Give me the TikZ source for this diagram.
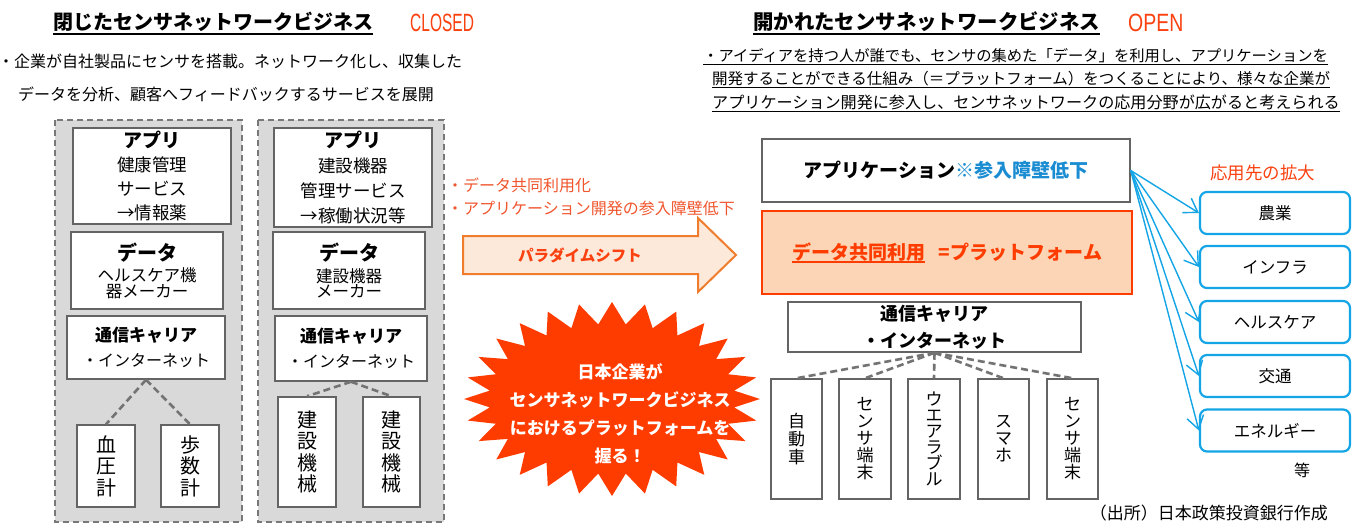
\documentclass[tikz,border=0pt]{standalone}
\usepackage{fontspec}
\setmainfont{Noto Sans CJK JP}
\newfontfamily\latinA[FakeStretch=0.62]{Liberation Sans}
\newfontfamily\latinB[FakeStretch=0.78]{Liberation Sans}
\usetikzlibrary{arrows.meta}
\definecolor{ored}{RGB}{250,65,15}
\definecolor{otext}{RGB}{240,85,45}
\definecolor{burstc}{RGB}{255,60,0}
\definecolor{peach}{RGB}{251,213,181}
\definecolor{arrfill}{RGB}{253,233,218}
\definecolor{arrline}{RGB}{240,125,45}
\definecolor{ablue}{RGB}{20,165,230}
\definecolor{sblue}{RGB}{25,140,210}
\definecolor{lgray}{RGB}{217,217,217}
\definecolor{pgray}{RGB}{120,120,120}
\definecolor{bgray}{RGB}{100,100,100}
\definecolor{dgray}{RGB}{115,115,115}
\newcommand\fsz[2]{\fontsize{#1}{#2}\selectfont\lineskiplimit=-50pt\lineskip=0pt}
\newcommand\myul[3]{\leavevmode\setbox0\hbox{#3}\rlap{\raisebox{-#1}{\rule{\wd0}{#2}}}\box0}
\tikzset{
  txt/.style={inner sep=0pt, anchor=base west},
  panel/.style={draw=pgray, fill=lgray, line width=1.8pt, dash pattern=on 6pt off 4pt},
  gbox/.style={draw=bgray, fill=white, line width=1.5pt, inner sep=0pt, align=center},
  dcon/.style={draw=dgray, line width=2.6pt, dash pattern=on 7pt off 4pt},
  appbox/.style={draw=ablue, line width=2.2pt, rounded corners=7pt, fill=white, inner sep=0pt,
    minimum width=150, minimum height=42, font=\fsz{16.5}{20}},
  barrow/.style={draw=ablue, line width=1.4pt, -{Straight Barb[length=13pt,width=17pt]}},
}
\begin{document}
\begin{tikzpicture}[x=1pt, y=-1pt]
\useasboundingbox (0,0) rectangle (1357,528);
\fill[white] (0,0) rectangle (1357,528);

% ---------- left: closed ----------
\node[txt, font=\fsz{20}{24}\bfseries] (ttl) at (53,29.5) {\myul{5.5pt}{2pt}{閉じたセンサネットワークビジネス}};
\node[txt, font=\latinA\fontsize{25}{28}\selectfont, text=ored] (closed) at (410,31.5) {CLOSED};
\node[txt, font=\fsz{16}{20}] (ld1) at (-2,67) {・企業が自社製品にセンサを搭載。ネットワーク化し、収集した};
\node[txt, font=\fsz{16}{20}] (ld2) at (18,100) {データを分析、顧客へフィードバックするサービスを展開};

\draw[panel] (55,120) rectangle (242,522);
\draw[panel] (258,120) rectangle (444,522);

\node[gbox, minimum width=158, minimum height=96, font=\fsz{17.5}{24}] (a1) at (152,176)
  {{\fsz{19}{24}\bfseries アプリ}\\健康管理\\サービス\\→情報薬};
\node[gbox, minimum width=152, minimum height=77, font=\fsz{16.5}{15.5}] (d1) at (147,270.5)
  {{\fsz{20}{20}\bfseries データ}\\[6pt]ヘルスケア機\\器メーカー};
\node[gbox, minimum width=158, minimum height=63, font=\fsz{16}{25}] (c1) at (146,347.5)
  {{\fsz{17}{25}\bfseries 通信キャリア}\\・インターネット};
\node[gbox, minimum width=58, minimum height=82, font=\fsz{20}{21.5}] (b1) at (106,466) {血\\圧\\計};
\node[gbox, minimum width=58, minimum height=82, font=\fsz{20}{21.5}] (b2) at (190,466) {歩\\数\\計};

\node[gbox, minimum width=158, minimum height=99, font=\fsz{17.5}{25}] (a2) at (353,177.5)
  {{\fsz{19}{25}\bfseries アプリ}\\建設機器\\管理サービス\\→稼働状況等};
\node[gbox, minimum width=152, minimum height=77, font=\fsz{16.5}{15.5}] (d2) at (349,270.5)
  {{\fsz{20}{20}\bfseries データ}\\[6pt]建設機器\\メーカー};
\node[gbox, minimum width=152, minimum height=65, font=\fsz{16}{25}] (c2) at (351,348.5)
  {{\fsz{17}{25}\bfseries 通信キャリア}\\・インターネット};
\node[gbox, minimum width=58, minimum height=110, font=\fsz{20}{21.5}] (e1) at (307,452) {建\\設\\機\\械};
\node[gbox, minimum width=57, minimum height=110, font=\fsz{20}{21.5}] (e2) at (391.5,452) {建\\設\\機\\械};

\draw[dcon] (c1.south) -- (b1.north);
\draw[dcon] (c1.south) -- (b2.north);
\draw[dcon] (c2.south) -- (e1.north);
\draw[dcon] (c2.south) -- (e2.north);

% ---------- middle ----------
\node[txt, font=\fsz{16}{20}, text=otext] (m1) at (447,191) {・データ共同利用化};
\node[txt, font=\fsz{16}{20}, text=otext] (m2) at (447,214) {・アプリケーション開発の参入障壁低下};
\filldraw[fill=arrfill, draw=arrline, line width=2pt] (463,236) -- (698,236) -- (698,218) -- (736,255)
  -- (698,292) -- (698,274) -- (463,274) -- cycle;
\node[inner sep=0pt, font=\fsz{15.5}{20}\bfseries, text=ored] (shift) at (580,255) {パラダイムシフト};

\begin{scope}[shift={(612,399)}]
\fill[burstc] (0:148 and 97) \foreach \i in {0,...,27} { -- ({(\i+0.5)*360/28}:123 and 75) -- ({(\i+1)*360/28}:148 and 97) } -- cycle;
\end{scope}
\node[inner sep=0pt, align=center, text=white, font=\fsz{17}{28}\bfseries] (burst) at (620,414)
  {日本企業が\\センサネットワークビジネス\\におけるプラットフォームを\\握る！};

% ---------- right: open ----------
\node[txt, font=\fsz{20.4}{24}\bfseries] (ttr) at (753,29.5) {\myul{5.5pt}{2pt}{開かれたセンサネットワークビジネス}};
\node[txt, font=\latinB\fontsize{25}{28}\selectfont, text=ored] (open) at (1128,31.5) {OPEN};
\node[txt, font=\fsz{15.3}{20}] (rd1) at (703,61) {\myul{3.8pt}{1.3pt}{・アイディアを持つ人が誰でも、センサの集めた「データ」を利用し、アプリケーションを}};
\node[txt, font=\fsz{15.5}{20}] (rd2) at (712,84.5) {\myul{3.8pt}{1.3pt}{開発することができる仕組み（＝プラットフォーム）をつくることにより、様々な企業が}};
\node[txt, font=\fsz{16.1}{20}] (rd3) at (712,108) {\myul{3.8pt}{1.3pt}{アプリケーション開発に参入し、センサネットワークの応用分野が広がると考えられる}};

\node[gbox, minimum width=368, minimum height=63, font=\fsz{19}{22}\bfseries] (app) at (946,170.5)
  {アプリケーション{\color{sblue}※参入障壁低下}};
\node[draw=burstc, line width=2.5pt, fill=peach, minimum width=370, minimum height=83, inner sep=0pt,
  font=\fsz{19}{22}\bfseries, text=burstc] (plat) at (947,252.5)
  {\myul{3.5pt}{1.5pt}{データ共同利用}\hspace{14pt}=プラットフォーム};
\node[gbox, minimum width=293, minimum height=50, font=\fsz{18}{27}\bfseries] (comm) at (934.5,327)
  {通信キャリア\\・インターネット};

\node[gbox, minimum width=51, minimum height=120, font=\fsz{17}{18}] (v1) at (796.5,439) {自\\動\\車};
\node[gbox, minimum width=52, minimum height=120, font=\fsz{17}{17}] (v2) at (865,439) {セ\\ン\\サ\\端\\末};
\node[gbox, minimum width=52, minimum height=120, font=\fsz{17}{16}] (v3) at (934,439) {ウ\\エ\\ア\\ラ\\ブ\\ル};
\node[gbox, minimum width=51, minimum height=120, font=\fsz{17}{17}] (v4) at (1003.5,439) {ス\\マ\\ホ};
\node[gbox, minimum width=51, minimum height=120, font=\fsz{17}{17}] (v5) at (1072.5,439) {セ\\ン\\サ\\端\\末};
\foreach \v in {v1,v2,v3,v4,v5} \draw[dcon] (comm.south) -- (\v.north);

\node[txt, font=\fsz{17.5}{20}, text=ored] (ext) at (1210,179) {応用先の拡大};
\node[appbox] (r1) at (1275,213) {農業};
\node[appbox] (r2) at (1275,267) {インフラ};
\node[appbox] (r3) at (1275,322) {ヘルスケア};
\node[appbox] (r4) at (1275,376) {交通};
\node[appbox] (r5) at (1275,430.5) {エネルギー};
\foreach \r in {r1,r2,r3,r4,r5} \draw[barrow] (app.east) -- (\r.west);
\node[inner sep=0pt, anchor=base, font=\fsz{16}{20}] (etc) at (1302,476) {等};
\node[inner sep=0pt, anchor=base east, font=\fsz{17}{20}] (src) at (1328,519) {（出所）日本政策投資銀行作成};
\end{tikzpicture}
\end{document}
